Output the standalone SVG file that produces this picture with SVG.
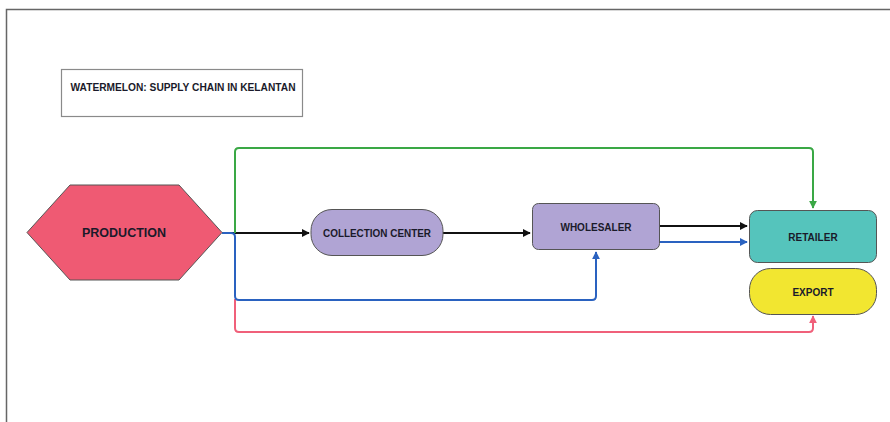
<svg xmlns="http://www.w3.org/2000/svg" width="890" height="422" viewBox="0 0 890 422">
  <style>
    .lbl { font-family: "Liberation Sans", Arial, sans-serif; font-weight: bold; fill: #1a1a2a; text-anchor: middle; dominant-baseline: central; }
    .node { stroke: #555; stroke-width: 1; }
    .wire { fill: none; stroke-width: 2; stroke-linejoin: round; }
  </style>
  <defs>
    <marker id="ah-black" viewBox="0 0 10 10" refX="9" refY="5" markerWidth="4" markerHeight="4" orient="auto" markerUnits="strokeWidth">
      <path d="M0,0 L10,5 L0,10 z" fill="#111"/>
    </marker>
    <marker id="ah-blue" viewBox="0 0 10 10" refX="9" refY="5" markerWidth="4" markerHeight="4" orient="auto" markerUnits="strokeWidth">
      <path d="M0,0 L10,5 L0,10 z" fill="#2a62c0"/>
    </marker>
    <marker id="ah-green" viewBox="0 0 10 10" refX="9" refY="5" markerWidth="4" markerHeight="4" orient="auto" markerUnits="strokeWidth">
      <path d="M0,0 L10,5 L0,10 z" fill="#3aa845"/>
    </marker>
    <marker id="ah-pink" viewBox="0 0 10 10" refX="9" refY="5" markerWidth="4" markerHeight="4" orient="auto" markerUnits="strokeWidth">
      <path d="M0,0 L10,5 L0,10 z" fill="#f0607a"/>
    </marker>
  </defs>

  <rect width="890" height="422" fill="#ffffff"/>
  <!-- page frame -->
  <path d="M6.5,422 V9.5 H890" fill="none" stroke="#666" stroke-width="1.5"/>

  <g id="title">
    <rect x="61.5" y="69.5" width="241" height="47" fill="#fff" stroke="#8a8a8a" stroke-width="1.2"/>
    <text class="lbl" x="183" y="87" font-size="10" textLength="225" lengthAdjust="spacingAndGlyphs">WATERMELON: SUPPLY CHAIN IN KELANTAN</text>
  </g>

  <g id="connectors">
    <!-- production → collection center → wholesaler -->
    <path class="wire" d="M222,233 H309" stroke="#111" marker-end="url(#ah-black)"/>
    <path class="wire" d="M443,233 H530" stroke="#111" marker-end="url(#ah-black)"/>
    <!-- wholesaler → retailer -->
    <path class="wire" d="M660,226 H747" stroke="#111" marker-end="url(#ah-black)"/>
    <path class="wire" d="M660,242 H747" stroke="#2a62c0" marker-end="url(#ah-blue)"/>
    <!-- production → retailer (direct) -->
    <path class="wire" d="M235,233 V152 Q235,148 239,148 H809 Q813,148 813,152 V208" stroke="#3aa845" marker-end="url(#ah-green)"/>
    <!-- production → export -->
    <path class="wire" d="M235,299 V328 Q235,332 239,332 H809 Q813,332 813,328 V316" stroke="#f0607a" marker-end="url(#ah-pink)"/>
    <!-- production → wholesaler -->
    <path class="wire" d="M222,233 H231 Q235,233 235,237 V296 Q235,300 239,300 H592 Q596,300 596,296 V252" stroke="#2a62c0" marker-end="url(#ah-blue)"/>
  </g>

  <g id="production">
    <polygon class="node" points="27,232.5 70,185 179,185 222,232.5 179,280 70,280" fill="#ef5a73"/>
    <text class="lbl" x="124" y="233" font-size="12.5">PRODUCTION</text>
  </g>

  <g id="collection-center">
    <rect class="node" x="311" y="209.5" width="132" height="46" rx="21" fill="#b0a4d4"/>
    <text class="lbl" x="377" y="233" font-size="10" textLength="108" lengthAdjust="spacingAndGlyphs">COLLECTION CENTER</text>
  </g>

  <g id="wholesaler">
    <rect class="node" x="532.5" y="203.5" width="127" height="46" rx="6" fill="#b0a4d4"/>
    <text class="lbl" x="596" y="227" font-size="10">WHOLESALER</text>
  </g>

  <g id="retailer">
    <rect class="node" x="749.5" y="210.5" width="127" height="52" rx="8" fill="#55c4bc"/>
    <text class="lbl" x="813" y="237" font-size="10">RETAILER</text>
  </g>

  <g id="export">
    <rect class="node" x="749.5" y="268.5" width="127" height="46" rx="21" fill="#f2e630"/>
    <text class="lbl" x="813" y="292" font-size="10">EXPORT</text>
  </g>
</svg>
